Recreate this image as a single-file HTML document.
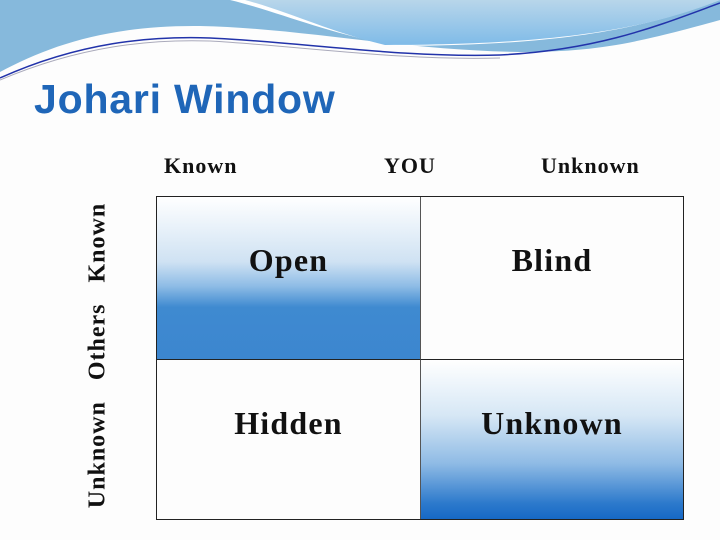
<!DOCTYPE html>
<html><head><style>
body{margin:0;width:720px;height:540px;background:#fdfdfd;position:relative;overflow:hidden;font-family:"Liberation Serif",serif;}
.t{position:absolute;font-weight:bold;color:#111;}
h1{position:absolute;left:34px;top:76px;margin:0;font:bold 41px "Liberation Sans",sans-serif;color:#1f66b8;letter-spacing:0.8px;}
.grid{position:absolute;left:156px;top:196px;width:528px;height:324px;border:1px solid #222;box-sizing:border-box;}
.c{position:absolute;box-sizing:border-box;font-size:32px;letter-spacing:1.2px;font-weight:bold;text-align:center;color:#111;}
</style></head><body>
<svg width="720" height="90" style="position:absolute;left:0;top:0">
<defs><linearGradient id="g2" x1="0" y1="0" x2="0" y2="1"><stop offset="0" stop-color="#b8d6ea"/><stop offset="1" stop-color="#7fbbe8"/></linearGradient></defs>
<path d="M0 0 H720 V20 C640 42 600 52 520 52 C400 50 300 28 200 26 C110 25 50 45 0 72 Z" fill="#86b9dc"/>
<path d="M230 0 H720 V0 C640 30 560 45 400 46 C330 35 280 12 230 0 Z" fill="#fff"/>
<path d="M245 0 H720 C650 28 560 45 385 45 C330 32 290 12 245 0 Z" fill="url(#g2)"/>
<path d="M0 78 C80 42 150 36 210 38 C300 42 400 58 500 55 C600 50 660 25 720 3" stroke="#2233aa" stroke-width="1.5" fill="none"/>
<path d="M0 80 C80 46 150 39 210 41 C300 46 400 61 500 58" stroke="#aab" stroke-width="1" fill="none"/>
</svg>
<h1>Johari Window</h1>
<div class="t" style="left:164px;top:153px;font-size:22px;letter-spacing:1px">Known</div>
<div class="t" style="left:384px;top:153px;font-size:22px;letter-spacing:1px">YOU</div>
<div class="t" style="left:541px;top:153px;font-size:22px;letter-spacing:1px">Unknown</div>
<div class="t" style="left:-60px;top:342px;width:316px;text-align:center;font-size:24px;letter-spacing:1px;transform:rotate(-90deg);white-space:pre">Unknown   Others   Known</div>
<div class="grid">
<div class="c" style="left:0;top:0;width:264px;height:163px;border-right:1px solid #555;border-bottom:1px solid #222;background:linear-gradient(#fff 0%,#cfe2f3 40%,#8ebce6 55%,#3f8ad0 68%,#3c86cf 100%);padding-top:45px">Open</div>
<div class="c" style="left:264px;top:0;width:262px;height:163px;border-bottom:1px solid #222;padding-top:45px">Blind</div>
<div class="c" style="left:0;top:163px;width:264px;height:159px;border-right:1px solid #555;padding-top:45px">Hidden</div>
<div class="c" style="left:264px;top:163px;width:262px;height:159px;background:linear-gradient(#fff 0%,#d6e7f5 35%,#8fbbe5 65%,#2d7acc 90%,#1668c6 100%);padding-top:45px">Unknown</div>
</div>
</body></html>
